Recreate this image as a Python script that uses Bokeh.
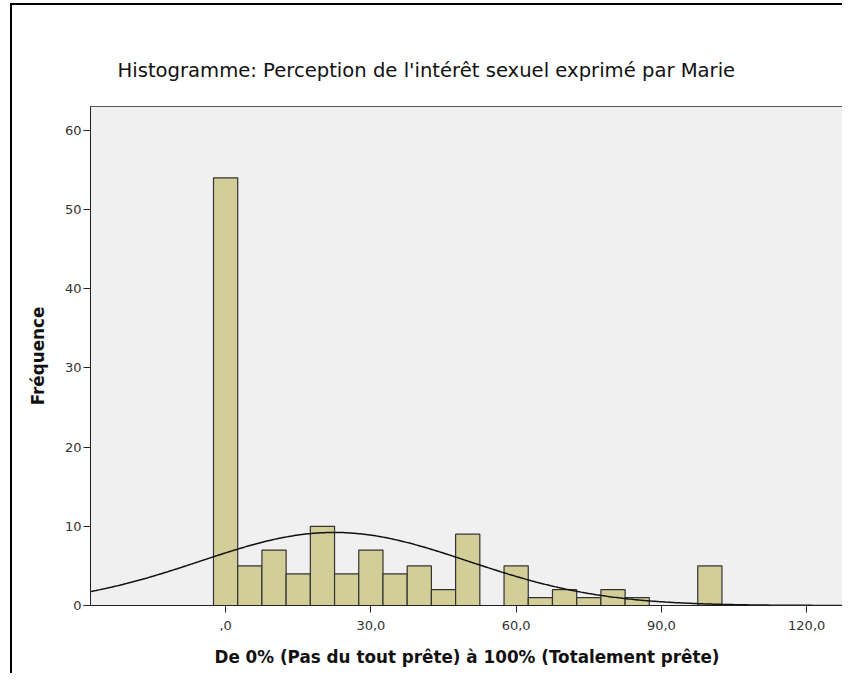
import numpy as np
from bokeh.plotting import figure
from bokeh.models import Range1d, FixedTicker
from bokeh.embed import file_html
from bokeh.resources import INLINE

# Data (bin centres, width 5)
bin_centers = [0, 5, 10, 15, 20, 25, 30, 35, 40, 45, 50, 55, 60, 65, 70, 75, 80, 85, 90, 95, 100]
frequencies = [54, 5, 7, 4, 10, 4, 7, 4, 5, 2, 9, 0, 5, 1, 2, 1, 2, 1, 0, 0, 5]
bin_width = 5
x_ticks = [0, 30, 60, 90, 120]
x_tick_labels = [",0", "30,0", "60,0", "90,0", "120,0"]
y_ticks = [0, 10, 20, 30, 40, 50, 60]

title_text = "Histogramme: Perception de l'intérêt sexuel exprimé par Marie"
x_label = "De 0% (Pas du tout prête) à 100% (Totalement prête)"
y_label = "Fréquence"

FONT = "DejaVu Sans"

p = figure(width=832, height=670, output_backend="svg", toolbar_location=None,
           x_range=Range1d(-27.9, 127.6), y_range=Range1d(0, 63),
           min_border_left=78, min_border_right=1, min_border_top=101, min_border_bottom=70)
p.styles = {"margin-left": "10px", "margin-top": "3px",
            "border-left": "2px solid black", "border-top": "2px solid black"}

p.background_fill_color = "#F0F0F0"
p.border_fill_color = "white"
p.outline_line_color = "#555555"
p.outline_line_width = 1
p.xgrid.visible = False
p.ygrid.visible = False

# Bars
xs = [c for c, f in zip(bin_centers, frequencies) if f > 0]
fs = [f for f in frequencies if f > 0]
p.quad(left=[c - bin_width / 2 for c in xs], right=[c + bin_width / 2 for c in xs],
       bottom=0, top=fs, fill_color="#D3CE97", line_color="#333333", line_width=1.2)

# Normal curve fitted on the histogram data
bc = np.array(bin_centers, dtype=float)
fr = np.array(frequencies, dtype=float)
n = fr.sum()
mean = (bc * fr).sum() / n
sd = np.sqrt(((bc - mean) ** 2 * fr).sum() / (n - 1))
cx = np.linspace(-27.9, 127.6, 400)
cy = n * bin_width / (sd * np.sqrt(2 * np.pi)) * np.exp(-0.5 * ((cx - mean) / sd) ** 2)
p.line(cx, cy, line_color="#111111", line_width=1.5)

# Title
p.title.text = title_text
p.title.align = "left"
p.title.offset = 27
p.title.text_font = FONT
p.title.text_font_size = "19.6px"
p.title.text_font_style = "normal"
p.title.text_color = "#111111"
p.title.standoff = 49

# Axes
for ax in (p.xaxis[0], p.yaxis[0]):
    ax.axis_line_color = "#222222"
    ax.major_tick_line_color = "#222222"
    ax.major_tick_out = 7
    ax.major_tick_in = 0
    ax.minor_tick_line_color = None
    ax.major_label_text_font = FONT
    ax.major_label_text_font_size = "13px"
    ax.major_label_text_color = "#333333"
    ax.axis_label_text_font = FONT
    ax.axis_label_text_font_size = "16.8px"
    ax.axis_label_text_font_style = "bold"
    ax.axis_label_text_color = "#111111"

p.xaxis[0].ticker = FixedTicker(ticks=x_ticks)
p.xaxis[0].major_label_overrides = {t: l for t, l in zip(x_ticks, x_tick_labels)}
p.xaxis[0].axis_label = x_label
p.xaxis[0].major_label_standoff = 8
p.xaxis[0].axis_label_standoff = 14

p.yaxis[0].ticker = FixedTicker(ticks=y_ticks)
p.yaxis[0].axis_label = y_label
p.yaxis[0].major_label_standoff = 2
p.yaxis[0].axis_label_standoff = 14

open("out.html", "w").write(file_html(p, INLINE))
